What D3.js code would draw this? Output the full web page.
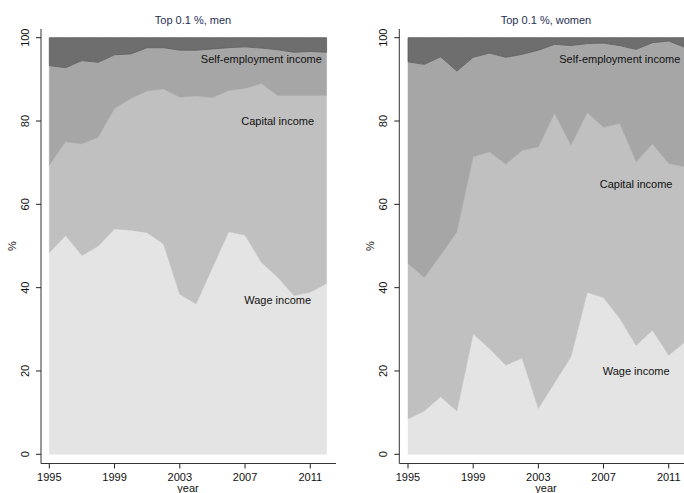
<!DOCTYPE html>
<html><head><meta charset="utf-8">
<script src="https://cdn.jsdelivr.net/npm/d3@7"></script>
<style>body{margin:0;background:#fff}svg{display:block}text{font-family:"Liberation Sans",Arial,sans-serif}</style>
</head><body><svg id="c" width="684" height="493"></svg>
<script>
const years = [1995,1996,1997,1998,1999,2000,2001,2002,2003,2004,2005,2006,2007,2008,2009,2010,2011,2012];
const seriesKeys = ["wage","capital","self","other"];
const seriesLabels = ["Wage income","Capital income","Self-employment income",""];
const xTicks = [1995,1999,2003,2007,2011];
const yTicks = [0,20,40,60,80,100];

// men, top 0.1 % (shares in %)
const menWage    = [48.4,52.5,47.7,50.0,54.1,53.8,53.2,50.5,38.4,36.1,44.8,53.4,52.6,46.1,42.5,38.1,38.9,41.0];
const menCapital = [21.0,22.5,26.8,26.1,28.9,31.6,34.0,37.2,47.3,49.9,40.8,33.9,35.2,42.9,43.6,48.0,47.2,45.1];
const menSelf    = [23.9,17.8,20.0,18.0,12.9,10.7,10.4,9.9,11.3,11.0,11.7,10.3,10.0,8.5,11.0,10.4,10.6,10.4];
const menOther   = [6.7,7.2,5.5,5.9,4.1,3.9,2.4,2.4,3.0,3.0,2.7,2.4,2.2,2.5,2.9,3.5,3.3,3.5];

// women, top 0.1 % (shares in %)
const womenWage    = [8.5,10.4,13.8,10.4,28.9,25.4,21.4,23.1,11.0,17.2,23.4,38.9,37.6,32.6,26.1,29.8,23.8,27.0];
const womenCapital = [37.3,32.0,34.0,43.0,42.5,47.2,48.2,49.8,62.8,64.6,50.8,43.1,40.9,46.8,44.1,44.7,46.0,42.0];
const womenSelf    = [48.4,51.2,47.6,38.6,23.9,23.7,25.7,23.1,23.2,16.6,23.9,16.6,20.2,18.7,27.0,24.3,29.4,28.7];
const womenOther   = [5.8,6.4,4.6,8.0,4.7,3.7,4.7,4.0,3.0,1.6,1.9,1.4,1.3,1.9,2.8,1.2,0.8,2.3];

const fills = ["#e4e4e4","#c0c0c0","#a6a6a6","#6e6e6e"];
const strokes = ["#e4e4e4","#c0c0c0","#a6a6a6","#5c5c5c"];

const svg = d3.select("#c");

function panel(o){
  const rows = years.map((yr,i)=>({year:yr, wage:o.w[i], capital:o.c[i], self:o.s[i], other:o.o[i]}));
  const stack = d3.stack().keys(seriesKeys)(rows);
  const x = d3.scaleLinear().domain([1995,2012]).range([o.x0, o.x1]);
  const y = d3.scaleLinear().domain([0,100]).range([454.3, 37.7]);
  const g = svg.append("g");
  const area = d3.area().x(d=>x(d.data.year)).y0(d=>y(d[0])).y1(d=>y(d[1]));
  g.selectAll("path.a").data(stack).join("path").attr("class","a")
    .attr("d",area).attr("fill",(d,i)=>fills[i]).attr("stroke",(d,i)=>strokes[i]).attr("stroke-width",(d,i)=>i===3?0.8:0.5);

  // axes
  const ax = o.ax;
  g.append("line").attr("x1",ax).attr("x2",ax).attr("y1",29).attr("y2",463.5).attr("stroke","#333").attr("stroke-width",1);
  g.append("line").attr("x1",ax).attr("x2",o.xend).attr("y1",463.5).attr("y2",463.5).attr("stroke","#333").attr("stroke-width",1);
  yTicks.forEach(t=>{
    g.append("line").attr("x1",ax-5).attr("x2",ax).attr("y1",y(t)).attr("y2",y(t)).attr("stroke","#222");
    g.append("text").attr("transform",`translate(${ax-12.5},${y(t)}) rotate(-90)`).attr("text-anchor","middle")
      .attr("font-size",11).attr("fill","#111").text(t);
  });
  xTicks.forEach(t=>{
    g.append("line").attr("x1",x(t)).attr("x2",x(t)).attr("y1",463.5).attr("y2",468.5).attr("stroke","#222");
    g.append("text").attr("x",x(t)).attr("y",480.5).attr("text-anchor","middle").attr("font-size",11).attr("fill","#111").text(t);
  });
  g.append("text").attr("x",o.xlabX).attr("y",492).attr("text-anchor","middle").attr("font-size",11).attr("fill","#111").text("year");
  g.append("text").attr("transform",`translate(${ax-25},${y(50)}) rotate(-90)`).attr("text-anchor","middle")
    .attr("font-size",11).attr("fill","#111").text("%");
  g.append("text").attr("x",o.titleX).attr("y",24).attr("text-anchor","middle").attr("font-size",11).attr("fill","#1f2f55").text(o.title);
  o.labels.forEach(l=>{
    g.append("text").attr("x",x(l[1])).attr("y",y(l[2])+4).attr("text-anchor","middle").attr("font-size",11).attr("fill","#111").text(l[0]);
  });
}

panel({w:menWage,c:menCapital,s:menSelf,o:menOther,x0:49.3,x1:326.6,ax:41,xend:336,xlabX:188,titleX:193,
  title:"Top 0.1 %, men",
  labels:[[seriesLabels[2],2008,95],[seriesLabels[1],2009,80],[seriesLabels[0],2009,37]]});
panel({w:womenWage,c:womenCapital,s:womenSelf,o:womenOther,x0:408,x1:685,ax:399.3,xend:684,xlabX:546,titleX:546,
  title:"Top 0.1 %, women",
  labels:[[seriesLabels[2],2008,95],[seriesLabels[1],2009,65],[seriesLabels[0],2009,20]]});
</script></body></html>
